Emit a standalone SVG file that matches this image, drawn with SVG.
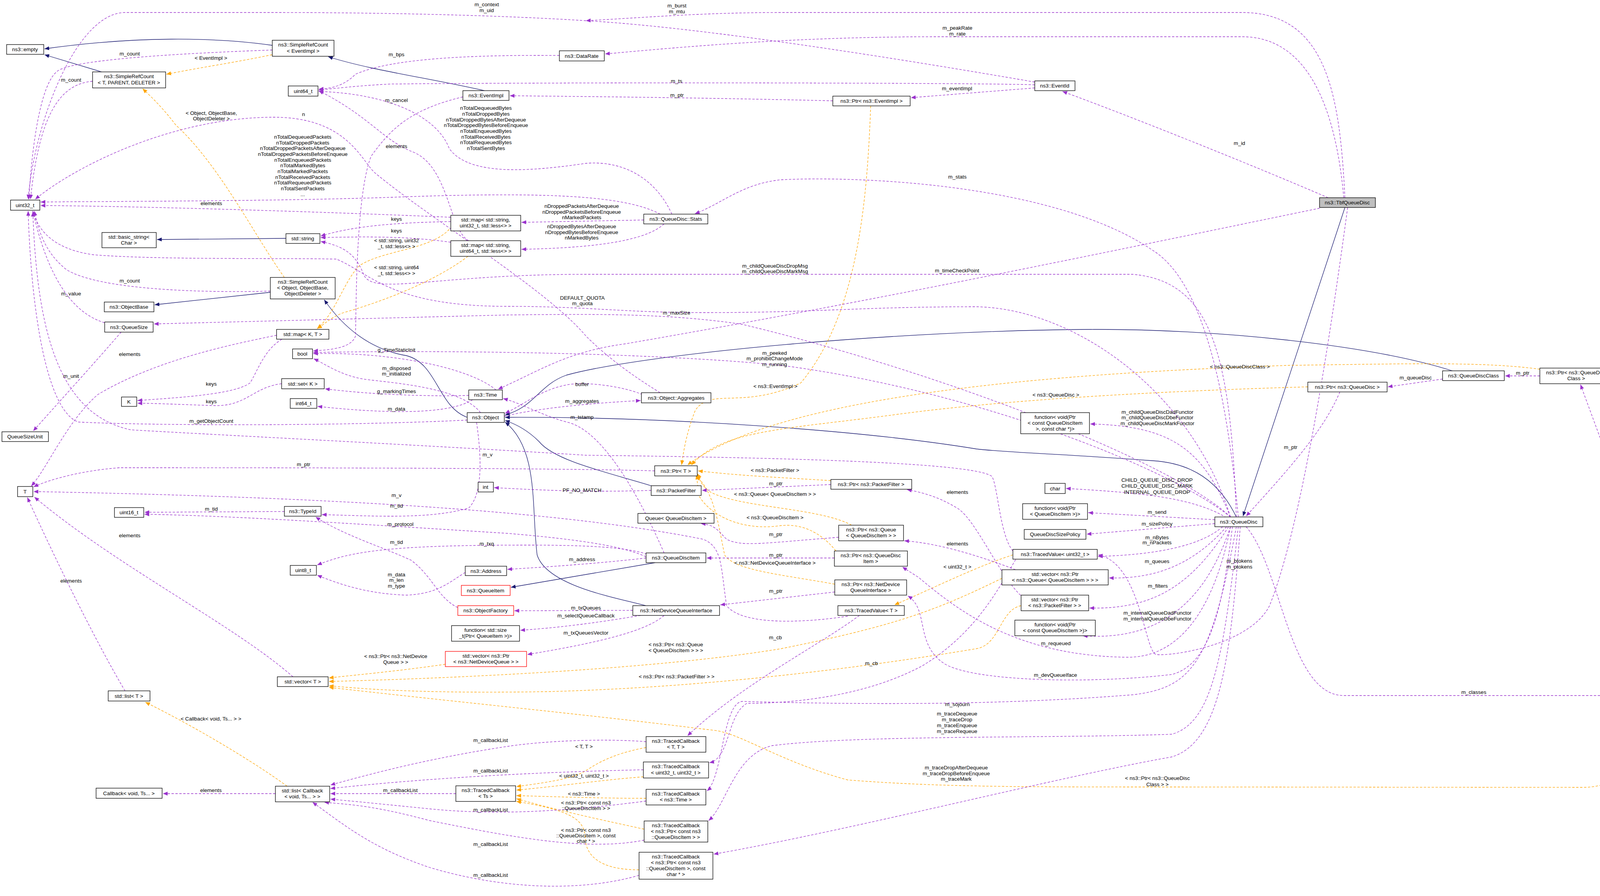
<svg xmlns="http://www.w3.org/2000/svg" width="4449" height="2293" viewBox="0 0 4449 2293">
<style>
text{font-family:"Liberation Sans",Arial,sans-serif;font-size:13.5px;fill:#000;text-anchor:middle}
.nd rect{fill:#fff;stroke:#000;stroke-width:1.3}
.red rect{stroke:#ff0000}
.cur rect{fill:#bfbfbf}
#edges path{fill:none;stroke-width:1.3}
#edges .m{stroke:#9a32cd;stroke-dasharray:6,4;marker-end:url(#am)}
#edges .t{stroke:#ffa500;stroke-dasharray:6,4;marker-end:url(#at)}
#edges .i{stroke:#191970;marker-end:url(#ai)}
</style>
<defs>
<marker id="am" markerWidth="13" markerHeight="10" refX="12" refY="5" orient="auto" markerUnits="userSpaceOnUse"><path d="M0,0 L12,5 L0,10 z" fill="#9a32cd"/></marker>
<marker id="at" markerWidth="13" markerHeight="10" refX="12" refY="5" orient="auto" markerUnits="userSpaceOnUse"><path d="M0,0 L12,5 L0,10 z" fill="#ffa500"/></marker>
<marker id="ai" markerWidth="13" markerHeight="10" refX="12" refY="5" orient="auto" markerUnits="userSpaceOnUse"><path d="M0,0 L12,5 L0,10 z" fill="#191970"/></marker>
</defs>
<rect width="4449" height="2293" fill="#fff"/>
<g id="edges">
<!-- inheritance -->
<path class="i" d="M697,116 C550,95 350,92 114,125"/>
<path class="i" d="M260,184 L114,140"/>
<path class="i" d="M1240,232 C1100,200 950,180 840,145"/>
<path class="i" d="M732,610 L402,613"/>
<path class="i" d="M692,748 L396,780"/>
<path class="i" d="M1196,1068 C1120,1040 1120,930 1040,910 C950,895 880,840 830,767"/>
<path class="i" d="M3718,949 C3500,880 3100,842 2800,843 C2300,845 1650,905 1450,960 C1380,985 1370,1040 1293,1062"/>
<path class="i" d="M3165,1323 C3120,1230 3050,1185 2950,1179 C2700,1160 2600,1160 2500,1149 C2200,1100 1700,1066 1293,1068"/>
<path class="i" d="M1667,1243 C1560,1210 1420,1180 1380,1130 C1350,1100 1320,1085 1293,1076"/>
<path class="i" d="M1653,1550 C1580,1530 1400,1500 1375,1420 C1360,1300 1380,1150 1293,1080"/>
<path class="i" d="M1677,1440 L1308,1503"/>
<path class="i" d="M3443,531 L3182,1321"/>
<!-- templates -->
<path class="t" d="M728,710 C650,600 560,420 450,320 C420,280 390,250 365,227"/>
<path class="t" d="M697,140 C600,160 500,175 426,190"/>
<path class="t" d="M1150,587 C1100,640 980,640 920,680 C880,720 860,800 812,841"/>
<path class="t" d="M1198,656 C1100,730 950,780 880,800 C850,810 830,830 812,841"/>
<path class="t" d="M2229,271 C2220,500 2200,800 2050,980 C1900,1050 1820,990 1780,1050 C1760,1100 1750,1150 1745,1190"/>
<path class="t" d="M3348,990 C3000,1000 2600,1020 2300,1060 C2000,1100 1850,1100 1770,1190"/>
<path class="t" d="M3942,945 C3800,925 3600,931 3300,935 C2700,955 2000,1010 1760,1190"/>
<path class="t" d="M2127,1230 C2000,1222 1900,1218 1787,1205"/>
<path class="t" d="M2180,1344 C2100,1300 1900,1300 1820,1260 C1790,1240 1790,1220 1785,1212"/>
<path class="t" d="M2140,1410 C2100,1360 2050,1340 2000,1345 C1900,1360 1820,1320 1790,1270 C1785,1240 1785,1225 1782,1215"/>
<path class="t" d="M2137,1495 C2000,1470 1880,1460 1855,1420 C1840,1350 1830,1260 1782,1218"/>
<path class="t" d="M2593,1420 C2500,1450 2400,1500 2290,1548"/>
<path class="t" d="M1140,1700 C1000,1720 900,1728 842,1735"/>
<path class="t" d="M2565,1480 C2400,1560 2300,1600 2000,1660 C1700,1710 1200,1735 842,1744"/>
<path class="t" d="M2614,1550 C2560,1560 2560,1650 2500,1660 C2200,1710 1800,1760 1400,1770 C1100,1775 950,1765 842,1755"/>
<path class="t" d="M4320,1800 C4250,1900 4180,2015 4051,2015 L3000,2014 C2600,2014 2400,2014 2170,1996 C2000,1950 1900,1880 1835,1870 C1500,1828 1200,1800 842,1759"/>
<path class="t" d="M735,2012 C650,1950 500,1860 372,1797"/>
<path class="t" d="M1654,1913 C1560,1930 1520,1960 1495,1975 C1460,1995 1380,2005 1322,2013"/>
<path class="t" d="M1647,1988 C1550,1995 1450,2010 1322,2022"/>
<path class="t" d="M1654,2043 C1550,2043 1450,2040 1322,2036"/>
<path class="t" d="M1649,2122 C1550,2100 1450,2080 1322,2044"/>
<path class="t" d="M1636,2226 C1550,2226 1510,2200 1500,2160 C1495,2110 1500,2080 1322,2051"/>
<!-- members -->
<path class="m" d="M3443,506 C3430,250 3400,32 3180,32 L2000,32 C1800,32 1650,45 1500,53"/>
<path class="m" d="M2649,210 C2300,150 1800,70 1500,53 C1300,40 1000,32 700,32 L320,32 C200,32 90,300 72,510"/>
<path class="m" d="M3440,506 C3420,280 3350,94 3180,94 L2400,94 C2000,94 1700,125 1549,138"/>
<path class="m" d="M3400,506 C3200,420 2900,300 2720,234"/>
<path class="m" d="M3378,533 C3000,610 2300,760 1600,880 C1450,900 1380,950 1275,996"/>
<path class="m" d="M3450,531 C3400,900 3330,1350 3250,1550 C3200,1650 3000,1680 2960,1675 C2930,1670 2920,1440 2811,1420"/>
<path class="m" d="M3170,1323 C3140,1000 3080,720 2950,640 C2700,470 2200,450 2000,460 C1900,470 1850,520 1779,547"/>
<path class="m" d="M3165,1323 C3150,900 3100,720 2900,702 L1500,702 C1100,702 950,760 930,700 C910,650 880,630 821,618"/>
<path class="m" d="M3150,1323 C3050,1000 2750,790 2500,785 C2200,785 2100,800 1800,800 C1600,800 1500,784 1300,784 C1000,784 950,700 861,663 C700,660 400,665 240,652 C150,640 100,600 84,540"/>
<path class="m" d="M3150,1323 C3000,1180 2400,950 1900,830 C1700,800 1500,804 1300,806 L394,829"/>
<path class="m" d="M3150,1323 C3000,1200 2500,1000 2000,935 C1700,905 1200,895 802,902"/>
<path class="m" d="M3150,1323 C3080,1150 3000,1090 2791,1085"/>
<path class="m" d="M3140,1325 C3050,1270 2900,1260 2729,1250"/>
<path class="m" d="M3110,1330 L2786,1312"/>
<path class="m" d="M3110,1340 L2782,1367"/>
<path class="m" d="M3130,1348 C3070,1400 2950,1420 2811,1424"/>
<path class="m" d="M3140,1348 C3050,1450 2950,1482 2839,1479"/>
<path class="m" d="M3145,1348 C3050,1500 2950,1560 2789,1556"/>
<path class="m" d="M3150,1348 C3080,1560 2950,1640 2772,1627"/>
<path class="m" d="M3150,1348 C3120,1500 3050,1680 2890,1682 C2600,1680 2450,1560 2352,1478 L2310,1451"/>
<path class="m" d="M3155,1348 C3130,1550 3100,1700 3000,1726 C2800,1750 2500,1745 2420,1700 C2340,1650 2380,1560 2324,1525"/>
<path class="m" d="M3165,1348 C3100,1700 3050,1760 2900,1778 C2500,1810 2100,1800 1900,1795 C1850,1800 1850,1990 1810,2024"/>
<path class="m" d="M3170,1348 C3130,1700 3100,1850 3000,1879 C2700,1890 2200,1880 1978,1908 C1880,1930 1860,2060 1814,2100"/>
<path class="m" d="M3175,1348 C3150,1700 3120,1900 3000,1937 C2700,1990 2200,2120 1827,2186"/>
<path class="m" d="M3190,1348 C3280,1450 3300,1780 3440,1780 L4240,1780"/>
<path class="m" d="M3430,1003 C3390,1100 3300,1200 3190,1321"/>
<path class="m" d="M2200,1575 C2100,1650 1900,1750 1760,1883"/>
<path class="m" d="M2600,1432 C2560,1500 2500,1620 2361,1704 C2200,1790 2000,1800 1912,1800 C1860,1830 1870,1940 1816,1952"/>
<path class="m" d="M1690,548 C1600,500 1400,490 1000,505 C700,515 300,515 104,517"/>
<path class="m" d="M1720,548 C1680,460 1600,410 1500,418 C1350,440 1200,450 1150,380 C1120,300 1000,240 816,234"/>
<path class="m" d="M1648,563 L1335,569"/>
<path class="m" d="M1700,573 C1650,620 1500,635 1335,638"/>
<path class="m" d="M1154,556 C900,545 400,528 104,526"/>
<path class="m" d="M1154,567 C1000,570 900,580 821,604"/>
<path class="m" d="M1154,620 C1050,605 950,605 821,608"/>
<path class="m" d="M1200,616 C1150,590 1150,430 1060,390 C980,360 950,300 816,232"/>
<path class="m" d="M697,128 C500,135 200,150 150,180 C100,210 80,400 74,510"/>
<path class="m" d="M237,208 C150,215 100,300 78,510"/>
<path class="m" d="M692,745 C500,750 250,740 170,690 C120,650 100,600 88,540"/>
<path class="m" d="M268,826 C180,800 120,700 84,540"/>
<path class="m" d="M310,850 C250,920 150,1030 85,1103"/>
<path class="m" d="M1196,1075 C900,1090 400,1090 200,1080 C120,1050 80,800 72,540"/>
<path class="m" d="M1210,1023 C1150,1060 1000,1060 813,1040"/>
<path class="m" d="M1200,1012 C1100,1015 950,1010 832,995"/>
<path class="m" d="M1270,998 C1200,940 1000,900 802,905"/>
<path class="m" d="M1230,1056 C1180,990 1000,980 930,970 C870,960 830,930 803,918"/>
<path class="m" d="M1291,1065 C1400,1040 1550,1030 1640,1025"/>
<path class="m" d="M1645,1010 C1600,990 1500,975 1450,985 C1380,1000 1350,1030 1293,1058"/>
<path class="m" d="M1690,1005 C1600,950 1540,900 1500,860 C1400,740 1100,560 957,440 C920,400 880,300 700,300 C450,300 200,420 90,510"/>
<path class="m" d="M1220,1081 C1230,1150 1240,1260 1200,1300 C1100,1330 950,1320 824,1317"/>
<path class="m" d="M728,1309 L370,1311"/>
<path class="m" d="M1654,1425 C1600,1400 1500,1382 1300,1365 C900,1340 600,1320 370,1316"/>
<path class="m" d="M1656,1418 C1600,1400 1500,1395 1350,1395 C1000,1395 900,1410 812,1446"/>
<path class="m" d="M1191,1465 C1150,1490 1120,1520 1040,1523 C950,1520 880,1500 812,1472"/>
<path class="m" d="M1654,1428 C1550,1440 1420,1450 1299,1457"/>
<path class="m" d="M1620,1562 L1317,1563"/>
<path class="m" d="M1640,1575 C1550,1590 1450,1605 1332,1613"/>
<path class="m" d="M1700,1575 C1650,1620 1500,1650 1350,1675"/>
<path class="m" d="M1172,1555 C1120,1529 1110,1478 1053,1434 C980,1400 880,1370 808,1323"/>
<path class="m" d="M1676,1205 C1400,1197 600,1197 306,1197 C200,1205 120,1230 86,1246"/>
<path class="m" d="M750,1732 C600,1600 300,1450 88,1272"/>
<path class="m" d="M320,1768 C250,1650 150,1450 70,1273"/>
<path class="m" d="M708,858 C600,880 400,920 250,1010 C170,1080 120,1200 80,1244"/>
<path class="m" d="M740,860 C680,880 660,950 640,980 C600,1010 450,1018 352,1025"/>
<path class="m" d="M721,982 C650,990 630,1040 550,1038 C480,1036 400,1032 352,1032"/>
<path class="m" d="M2170,1577 C2050,1595 1900,1600 1860,1550 C1845,1450 1850,1400 1800,1380 C1500,1320 1000,1275 86,1258"/>
<path class="m" d="M2593,1410 C2560,1370 2555,1250 2540,1220 C2500,1180 1900,1170 1500,1165 C1100,1140 500,1110 335,1100 C150,1060 95,850 84,542"/>
<path class="m" d="M1667,1255 C1500,1260 1400,1255 1265,1248"/>
<path class="m" d="M2127,1240 L1797,1255"/>
<path class="m" d="M2147,1375 C1950,1390 1900,1400 1860,1380 C1840,1360 1830,1342 1794,1340"/>
<path class="m" d="M2136,1428 L1809,1428"/>
<path class="m" d="M2137,1515 L1844,1548"/>
<path class="m" d="M2600,1458 C2500,1420 2400,1390 2315,1384"/>
<path class="m" d="M2620,1530 C2560,1480 2500,1330 2450,1300 C2400,1270 2360,1260 2322,1253"/>
<path class="m" d="M4332,1759 L4046,984"/>
<path class="m" d="M3942,962 L3853,962"/>
<path class="m" d="M3693,970 L3553,990"/>
<path class="m" d="M1185,248 C1050,280 1000,330 950,400 C910,500 912,800 910,860 C900,890 850,895 802,898"/>
<path class="m" d="M2649,217 C2500,212 1500,210 1000,215 C900,220 850,228 816,230"/>
<path class="m" d="M2649,225 L2332,250"/>
<path class="m" d="M2132,258 C1800,250 1500,247 1305,245"/>
<path class="m" d="M1432,142 C1200,140 1000,150 910,190 C880,220 850,226 816,228"/>
<path class="m" d="M1700,1415 C1650,1300 1550,1100 1450,1080 C1380,1060 1330,1030 1288,1020"/>
<path class="m" d="M1654,1898 C1550,1890 1400,1895 1300,1910 C1100,1940 950,1980 846,2009"/>
<path class="m" d="M1647,1970 C1400,1975 1100,1990 846,2018"/>
<path class="m" d="M1167,2031 L846,2031"/>
<path class="m" d="M1654,2050 C1500,2070 1300,2090 1100,2070 C1000,2060 900,2050 846,2045"/>
<path class="m" d="M1649,2150 C1500,2180 1300,2140 1100,2100 C950,2060 900,2060 830,2053"/>
<path class="m" d="M1636,2240 C1500,2280 1300,2280 1100,2220 C950,2170 880,2110 800,2053"/>
<path class="m" d="M705,2031 L417,2031"/>
</g>
<g id="labels">
<text x="1246" y="16">m_context</text><text x="1246" y="31">m_uid</text>
<text x="1733" y="19">m_burst</text><text x="1733" y="34">m_mtu</text>
<text x="2451" y="76">m_peakRate</text><text x="2451" y="91">m_rate</text>
<text x="332" y="142">m_count</text><text x="540" y="153">&lt; EventImpl &gt;</text><text x="182" y="209">m_count</text>
<text x="1015" y="144">m_bps</text><text x="1732" y="212">m_ts</text><text x="1733" y="248">m_ptr</text><text x="2450" y="231">m_eventImpl</text>
<text x="1015" y="261">m_cancel</text>
<text x="1244" y="281">nTotalDequeuedBytes</text><text x="1244" y="296">nTotalDroppedBytes</text><text x="1244" y="311">nTotalDroppedBytesAfterDequeue</text><text x="1244" y="325">nTotalDroppedBytesBeforeEnqueue</text><text x="1244" y="340">nTotalEnqueuedBytes</text><text x="1244" y="355">nTotalReceivedBytes</text><text x="1244" y="369">nTotalRequeuedBytes</text><text x="1244" y="384">nTotalSentBytes</text>
<text x="541" y="294">&lt; Object, ObjectBase,</text><text x="541" y="308">ObjectDeleter &gt;</text><text x="777" y="297">n</text>
<text x="3173" y="371">m_id</text>
<text x="775" y="355">nTotalDequeuedPackets</text><text x="775" y="370">nTotalDroppedPackets</text><text x="775" y="384">nTotalDroppedPacketsAfterDequeue</text><text x="775" y="399">nTotalDroppedPacketsBeforeEnqueue</text><text x="775" y="414">nTotalEnqueuedPackets</text><text x="775" y="428">nTotalMarkedBytes</text><text x="775" y="443">nTotalMarkedPackets</text><text x="775" y="458">nTotalReceivedPackets</text><text x="775" y="472">nTotalRequeuedPackets</text><text x="775" y="487">nTotalSentPackets</text><text x="775" y="502">...</text>
<text x="1015" y="379">elements</text><text x="2451" y="457">m_stats</text><text x="541" y="525">elements</text>
<text x="1489" y="532">nDroppedPacketsAfterDequeue</text><text x="1489" y="547">nDroppedPacketsBeforeEnqueue</text><text x="1489" y="561">nMarkedPackets</text>
<text x="1015" y="565">keys</text><text x="1015" y="595">keys</text>
<text x="1489" y="584">nDroppedBytesAfterDequeue</text><text x="1489" y="599">nDroppedBytesBeforeEnqueue</text><text x="1489" y="613">nMarkedBytes</text>
<text x="1015" y="620">&lt; std::string, uint32</text><text x="1015" y="635">_t, std::less&lt;&gt; &gt;</text>
<text x="1015" y="689">&lt; std::string, uint64</text><text x="1015" y="704">_t, std::less&lt;&gt; &gt;</text>
<text x="1984" y="685">m_childQueueDiscDropMsg</text><text x="1984" y="699">m_childQueueDiscMarkMsg</text><text x="2450" y="697">m_timeCheckPoint</text>
<text x="332" y="723">m_count</text><text x="182" y="756">m_value</text>
<text x="1491" y="767">DEFAULT_QUOTA</text><text x="1491" y="781">m_quota</text><text x="1732" y="805">m_maxSize</text>
<text x="1015" y="900">g_TimeStaticInit</text><text x="332" y="911">elements</text>
<text x="1983" y="908">m_peeked</text><text x="1983" y="922">m_prohibitChangeMode</text><text x="1983" y="937">m_running</text>
<text x="3174" y="943">&lt; ns3::QueueDiscClass &gt;</text><text x="3898" y="959">m_ptr</text><text x="3624" y="971">m_queueDisc</text>
<text x="1015" y="947">m_disposed</text><text x="1015" y="961">m_initialized</text><text x="182" y="967">m_unit</text>
<text x="1490" y="988">buffer</text><text x="541" y="987">keys</text><text x="1985" y="993">&lt; ns3::EventImpl &gt;</text><text x="2703" y="1015">&lt; ns3::QueueDisc &gt;</text>
<text x="1015" y="1006">g_markingTimes</text><text x="1490" y="1031">m_aggregates</text><text x="541" y="1032">keys</text><text x="1015" y="1051">m_data</text>
<text x="2963" y="1059">m_childQueueDiscDadFunctor</text><text x="2963" y="1073">m_childQueueDiscDbeFunctor</text><text x="2963" y="1088">m_childQueueDiscMarkFunctor</text>
<text x="1490" y="1072">m_tstamp</text><text x="541" y="1082">m_getObjectCount</text><text x="3304" y="1149">m_ptr</text><text x="1248" y="1168">m_v</text>
<text x="777" y="1193">m_ptr</text><text x="1984" y="1208">&lt; ns3::PacketFilter &gt;</text>
<text x="2962" y="1233">CHILD_QUEUE_DISC_DROP</text><text x="2962" y="1248">CHILD_QUEUE_DISC_MARK</text><text x="2962" y="1264">INTERNAL_QUEUE_DROP</text>
<text x="1986" y="1242">m_ptr</text><text x="1490" y="1259">PF_NO_MATCH</text><text x="2451" y="1264">elements</text><text x="1984" y="1269">&lt; ns3::Queue&lt; QueueDiscItem &gt; &gt;</text>
<text x="4187" y="1272">elements</text><text x="1015" y="1272">m_v</text><text x="1015" y="1299">m_tid</text><text x="541" y="1307">m_tid</text>
<text x="2962" y="1315">m_send</text><text x="1984" y="1329">&lt; ns3::QueueDiscItem &gt;</text><text x="2962" y="1345">m_sizePolicy</text>
<text x="1025" y="1346">m_protocol</text><text x="1986" y="1372">m_ptr</text><text x="332" y="1375">elements</text>
<text x="2962" y="1380">m_nBytes</text><text x="2962" y="1393">m_nPackets</text>
<text x="1015" y="1392">m_tid</text><text x="1246" y="1396">m_txq</text><text x="2451" y="1396">elements</text>
<text x="1986" y="1425">m_ptr</text><text x="1490" y="1436">m_address</text><text x="3173" y="1440">m_btokens</text><text x="2962" y="1441">m_queues</text>
<text x="1984" y="1445">&lt; ns3::NetDeviceQueueInterface &gt;</text><text x="2451" y="1455">&lt; uint32_t &gt;</text><text x="3173" y="1455">m_ptokens</text>
<text x="1015" y="1475">m_data</text><text x="1015" y="1489">m_len</text><text x="1015" y="1504">m_type</text><text x="182" y="1491">elements</text>
<text x="2964" y="1504">m_filters</text><text x="1986" y="1517">m_ptr</text>
<text x="1500" y="1560">m_txQueues</text><text x="2963" y="1573">m_internalQueueDadFunctor</text><text x="2963" y="1588">m_internalQueueDbeFunctor</text>
<text x="1500" y="1580">m_selectQueueCallback</text><text x="1500" y="1624">m_txQueuesVector</text>
<text x="1985" y="1636">m_cb</text><text x="2703" y="1651">m_requeued</text>
<text x="1730" y="1654">&lt; ns3::Ptr&lt; ns3::Queue</text><text x="1730" y="1669">&lt; QueueDiscItem &gt; &gt; &gt;</text>
<text x="1013" y="1684">&lt; ns3::Ptr&lt; ns3::NetDevice</text><text x="1013" y="1699">Queue &gt; &gt;</text>
<text x="2231" y="1702">m_cb</text><text x="2702" y="1732">m_devQueueIface</text><text x="1732" y="1736">&lt; ns3::Ptr&lt; ns3::PacketFilter &gt; &gt;</text>
<text x="3773" y="1776">m_classes</text><text x="2451" y="1807">m_sojourn</text>
<text x="2450" y="1831">m_traceDequeue</text><text x="2450" y="1846">m_traceDrop</text><text x="2450" y="1861">m_traceEnqueue</text><text x="2450" y="1876">m_traceRequeue</text>
<text x="540" y="1844">&lt; Callback&lt; void, Ts... &gt; &gt;</text><text x="1256" y="1899">m_callbackList</text><text x="1495" y="1915">&lt; T, T &gt;</text>
<text x="2448" y="1969">m_traceDropAfterDequeue</text><text x="2448" y="1984">m_traceDropBeforeEnqueue</text><text x="2448" y="1998">m_traceMark</text>
<text x="1256" y="1977">m_callbackList</text><text x="1495" y="1990">&lt; uint32_t, uint32_t &gt;</text>
<text x="2963" y="1996">&lt; ns3::Ptr&lt; ns3::QueueDisc</text><text x="2963" y="2012">Class &gt; &gt;</text>
<text x="540" y="2027">elements</text><text x="1025" y="2027">m_callbackList</text><text x="1495" y="2036">&lt; ns3::Time &gt;</text>
<text x="1500" y="2059">&lt; ns3::Ptr&lt; const ns3</text><text x="1500" y="2073">::QueueDiscItem &gt; &gt;</text><text x="1256" y="2077">m_callbackList</text>
<text x="1500" y="2129">&lt; ns3::Ptr&lt; const ns3</text><text x="1500" y="2143">::QueueDiscItem &gt;, const</text><text x="1500" y="2157">char * &gt;</text>
<text x="1256" y="2165">m_callbackList</text><text x="1256" y="2244">m_callbackList</text>
</g>
<g id="empty" class="nd"><rect x="17" y="114" width="95" height="25"/><text x="64" y="131">ns3::empty</text></g>
<g id="srcE" class="nd"><rect x="697" y="103" width="158" height="41"/><text x="776" y="119">ns3::SimpleRefCount</text><text x="776" y="135">&lt; EventImpl &gt;</text></g>
<g id="srcT" class="nd"><rect x="237" y="184" width="187" height="41"/><text x="330" y="200">ns3::SimpleRefCount</text><text x="330" y="216">&lt; T, PARENT, DELETER &gt;</text></g>
<g id="u64" class="nd"><rect x="738" y="220" width="76" height="26"/><text x="776" y="238">uint64_t</text></g>
<g id="eventImpl" class="nd"><rect x="1185" y="232" width="118" height="25"/><text x="1244" y="249">ns3::EventImpl</text></g>
<g id="dataRate" class="nd"><rect x="1432" y="130" width="115" height="26"/><text x="1489" y="148">ns3::DataRate</text></g>
<g id="eventId" class="nd"><rect x="2649" y="207" width="103" height="25"/><text x="2700" y="224">ns3::EventId</text></g>
<g id="ptrEI" class="nd"><rect x="2132" y="246" width="198" height="25"/><text x="2231" y="263">ns3::Ptr&lt; ns3::EventImpl &gt;</text></g>
<g id="tbf" class="nd cur"><rect x="3378" y="506" width="143" height="25"/><text x="3449" y="523">ns3::TbfQueueDisc</text></g>
<g id="u32" class="nd"><rect x="27" y="512" width="75" height="26"/><text x="64" y="530">uint32_t</text></g>
<g id="mapU32" class="nd"><rect x="1154" y="551" width="179" height="40"/><text x="1243" y="567">std::map&lt; std::string,</text><text x="1243" y="582">uint32_t, std::less&lt;&gt; &gt;</text></g>
<g id="mapU64" class="nd"><rect x="1154" y="616" width="179" height="40"/><text x="1243" y="632">std::map&lt; std::string,</text><text x="1243" y="647">uint64_t, std::less&lt;&gt; &gt;</text></g>
<g id="bstr" class="nd"><rect x="261" y="595" width="139" height="39"/><text x="330" y="611">std::basic_string&lt;</text><text x="330" y="626">Char &gt;</text></g>
<g id="str" class="nd"><rect x="732" y="598" width="87" height="25"/><text x="775" y="615">std::string</text></g>
<g id="stats" class="nd"><rect x="1648" y="548" width="164" height="25"/><text x="1730" y="565">ns3::QueueDisc::Stats</text></g>
<g id="srcO" class="nd"><rect x="692" y="710" width="166" height="55"/><text x="775" y="726">ns3::SimpleRefCount</text><text x="775" y="741">&lt; Object, ObjectBase,</text><text x="775" y="756">ObjectDeleter &gt;</text></g>
<g id="objBase" class="nd"><rect x="267" y="773" width="127" height="25"/><text x="330" y="790">ns3::ObjectBase</text></g>
<g id="qsize" class="nd"><rect x="268" y="824" width="124" height="26"/><text x="330" y="842">ns3::QueueSize</text></g>
<g id="mapKT" class="nd"><rect x="708" y="843" width="134" height="25"/><text x="775" y="860">std::map&lt; K, T &gt;</text></g>
<g id="bool" class="nd"><rect x="749" y="893" width="51" height="25"/><text x="774" y="910">bool</text></g>
<g id="setK" class="nd"><rect x="721" y="969" width="109" height="26"/><text x="775" y="987">std::set&lt; K &gt;</text></g>
<g id="K" class="nd"><rect x="311" y="1016" width="39" height="24"/><text x="330" y="1033">K</text></g>
<g id="i64" class="nd"><rect x="743" y="1020" width="68" height="25"/><text x="777" y="1037">int64_t</text></g>
<g id="time" class="nd"><rect x="1200" y="998" width="86" height="25"/><text x="1243" y="1015">ns3::Time</text></g>
<g id="object" class="nd"><rect x="1196" y="1056" width="95" height="25"/><text x="1243" y="1073">ns3::Object</text></g>
<g id="qsu" class="nd"><rect x="5" y="1105" width="119" height="25"/><text x="64" y="1122">QueueSizeUnit</text></g>
<g id="aggr" class="nd"><rect x="1642" y="1005" width="178" height="26"/><text x="1731" y="1023">ns3::Object::Aggregates</text></g>
<g id="qdc" class="nd"><rect x="3693" y="949" width="158" height="25"/><text x="3772" y="966">ns3::QueueDiscClass</text></g>
<g id="ptrQDC" class="nd"><rect x="3942" y="942" width="186" height="40"/><text x="4035" y="958">ns3::Ptr&lt; ns3::QueueDisc</text><text x="4035" y="973">Class &gt;</text></g>
<g id="ptrQD" class="nd"><rect x="3348" y="978" width="203" height="25"/><text x="3449" y="995">ns3::Ptr&lt; ns3::QueueDisc &gt;</text></g>
<g id="fnChild" class="nd"><rect x="2613" y="1056" width="176" height="54"/><text x="2701" y="1072">function&lt; void(Ptr</text><text x="2701" y="1087">&lt; const QueueDiscItem</text><text x="2701" y="1102">&gt;, const char *)&gt;</text></g>
<g id="T" class="nd"><rect x="45" y="1245" width="39" height="26"/><text x="64" y="1263">T</text></g>
<g id="int" class="nd"><rect x="1224" y="1234" width="39" height="25"/><text x="1243" y="1251">int</text></g>
<g id="u16" class="nd"><rect x="293" y="1299" width="75" height="25"/><text x="330" y="1316">uint16_t</text></g>
<g id="typeId" class="nd"><rect x="728" y="1296" width="94" height="25"/><text x="775" y="1313">ns3::TypeId</text></g>
<g id="u8" class="nd"><rect x="743" y="1447" width="67" height="25"/><text x="776" y="1464">uint8_t</text></g>
<g id="addr" class="nd"><rect x="1191" y="1449" width="106" height="24"/><text x="1244" y="1466">ns3::Address</text></g>
<g id="qitem" class="nd red"><rect x="1181" y="1498" width="125" height="26"/><text x="1243" y="1516">ns3::QueueItem</text></g>
<g id="objFac" class="nd red"><rect x="1172" y="1550" width="143" height="25"/><text x="1243" y="1567">ns3::ObjectFactory</text></g>
<g id="fnSize" class="nd"><rect x="1156" y="1601" width="174" height="40"/><text x="1243" y="1617">function&lt; std::size</text><text x="1243" y="1632">_t(Ptr&lt; QueueItem &gt;)&gt;</text></g>
<g id="vecNDQ" class="nd red"><rect x="1140" y="1667" width="208" height="39"/><text x="1244" y="1683">std::vector&lt; ns3::Ptr</text><text x="1244" y="1698">&lt; ns3::NetDeviceQueue &gt; &gt;</text></g>
<g id="vecT" class="nd"><rect x="710" y="1732" width="130" height="25"/><text x="775" y="1749">std::vector&lt; T &gt;</text></g>
<g id="listT" class="nd"><rect x="277" y="1768" width="107" height="26"/><text x="330" y="1786">std::list&lt; T &gt;</text></g>
<g id="cb" class="nd"><rect x="246" y="2017" width="169" height="26"/><text x="330" y="2035">Callback&lt; void, Ts... &gt;</text></g>
<g id="listCb" class="nd"><rect x="705" y="2012" width="139" height="40"/><text x="774" y="2028">std::list&lt; Callback</text><text x="774" y="2043">&lt; void, Ts... &gt; &gt;</text></g>
<g id="tcTs" class="nd"><rect x="1167" y="2011" width="153" height="40"/><text x="1243" y="2027">ns3::TracedCallback</text><text x="1243" y="2042">&lt; Ts &gt;</text></g>
<g id="ptrT" class="nd"><rect x="1676" y="1192" width="109" height="26"/><text x="1730" y="1210">ns3::Ptr&lt; T &gt;</text></g>
<g id="pf" class="nd"><rect x="1667" y="1243" width="128" height="25"/><text x="1731" y="1260">ns3::PacketFilter</text></g>
<g id="ptrPF" class="nd"><rect x="2127" y="1227" width="207" height="25"/><text x="2230" y="1244">ns3::Ptr&lt; ns3::PacketFilter &gt;</text></g>
<g id="char" class="nd"><rect x="2675" y="1237" width="52" height="26"/><text x="2701" y="1255">char</text></g>
<g id="fnSend" class="nd"><rect x="2618" y="1289" width="166" height="40"/><text x="2701" y="1305">function&lt; void(Ptr</text><text x="2701" y="1320">&lt; QueueDiscItem &gt;)&gt;</text></g>
<g id="queueQDI" class="nd"><rect x="1633" y="1314" width="195" height="25"/><text x="1730" y="1331">Queue&lt; QueueDiscItem &gt;</text></g>
<g id="ptrQ" class="nd"><rect x="2147" y="1344" width="166" height="40"/><text x="2230" y="1360">ns3::Ptr&lt; ns3::Queue</text><text x="2230" y="1375">&lt; QueueDiscItem &gt; &gt;</text></g>
<g id="qdsp" class="nd"><rect x="2622" y="1355" width="158" height="25"/><text x="2701" y="1372">QueueDiscSizePolicy</text></g>
<g id="qdi" class="nd"><rect x="1654" y="1415" width="153" height="25"/><text x="1730" y="1432">ns3::QueueDiscItem</text></g>
<g id="ptrQDI" class="nd"><rect x="2136" y="1410" width="187" height="39"/><text x="2229" y="1426">ns3::Ptr&lt; ns3::QueueDisc</text><text x="2229" y="1441">Item &gt;</text></g>
<g id="tvU32" class="nd"><rect x="2593" y="1406" width="216" height="25"/><text x="2701" y="1423">ns3::TracedValue&lt; uint32_t &gt;</text></g>
<g id="vecQ" class="nd"><rect x="2565" y="1458" width="272" height="39"/><text x="2701" y="1474">std::vector&lt; ns3::Ptr</text><text x="2701" y="1489">&lt; ns3::Queue&lt; QueueDiscItem &gt; &gt; &gt;</text></g>
<g id="ptrNDQI" class="nd"><rect x="2137" y="1484" width="184" height="39"/><text x="2229" y="1500">ns3::Ptr&lt; ns3::NetDevice</text><text x="2229" y="1515">QueueInterface &gt;</text></g>
<g id="ndqi" class="nd"><rect x="1620" y="1550" width="222" height="25"/><text x="1731" y="1567">ns3::NetDeviceQueueInterface</text></g>
<g id="tvT" class="nd"><rect x="2145" y="1550" width="170" height="25"/><text x="2230" y="1567">ns3::TracedValue&lt; T &gt;</text></g>
<g id="vecPF" class="nd"><rect x="2614" y="1523" width="173" height="40"/><text x="2700" y="1539">std::vector&lt; ns3::Ptr</text><text x="2700" y="1554">&lt; ns3::PacketFilter &gt; &gt;</text></g>
<g id="fnInt" class="nd"><rect x="2598" y="1587" width="206" height="40"/><text x="2701" y="1603">function&lt; void(Ptr</text><text x="2701" y="1618">&lt; const QueueDiscItem &gt;)&gt;</text></g>
<g id="tcTT" class="nd"><rect x="1654" y="1885" width="153" height="40"/><text x="1730" y="1901">ns3::TracedCallback</text><text x="1730" y="1916">&lt; T, T &gt;</text></g>
<g id="tcU" class="nd"><rect x="1647" y="1950" width="167" height="41"/><text x="1730" y="1966">ns3::TracedCallback</text><text x="1730" y="1982">&lt; uint32_t, uint32_t &gt;</text></g>
<g id="tcTime" class="nd"><rect x="1654" y="2020" width="153" height="40"/><text x="1730" y="2036">ns3::TracedCallback</text><text x="1730" y="2051">&lt; ns3::Time &gt;</text></g>
<g id="tcP" class="nd"><rect x="1649" y="2101" width="163" height="54"/><text x="1730" y="2117">ns3::TracedCallback</text><text x="1730" y="2132">&lt; ns3::Ptr&lt; const ns3</text><text x="1730" y="2147">::QueueDiscItem &gt; &gt;</text></g>
<g id="tcPC" class="nd"><rect x="1636" y="2181" width="189" height="69"/><text x="1730" y="2197">ns3::TracedCallback</text><text x="1730" y="2212">&lt; ns3::Ptr&lt; const ns3</text><text x="1730" y="2227">::QueueDiscItem &gt;, const</text><text x="1730" y="2242">char * &gt;</text></g>
<g id="qd" class="nd"><rect x="3110" y="1323" width="123" height="25"/><text x="3171" y="1340">ns3::QueueDisc</text></g>
<g id="vecQDC" class="nd"><rect x="4242" y="1759" width="204" height="41"/><text x="4344" y="1775">std::vector&lt; ns3::Ptr</text><text x="4344" y="1791">&lt; ns3::QueueDiscClass &gt; &gt;</text></g>
</svg>
